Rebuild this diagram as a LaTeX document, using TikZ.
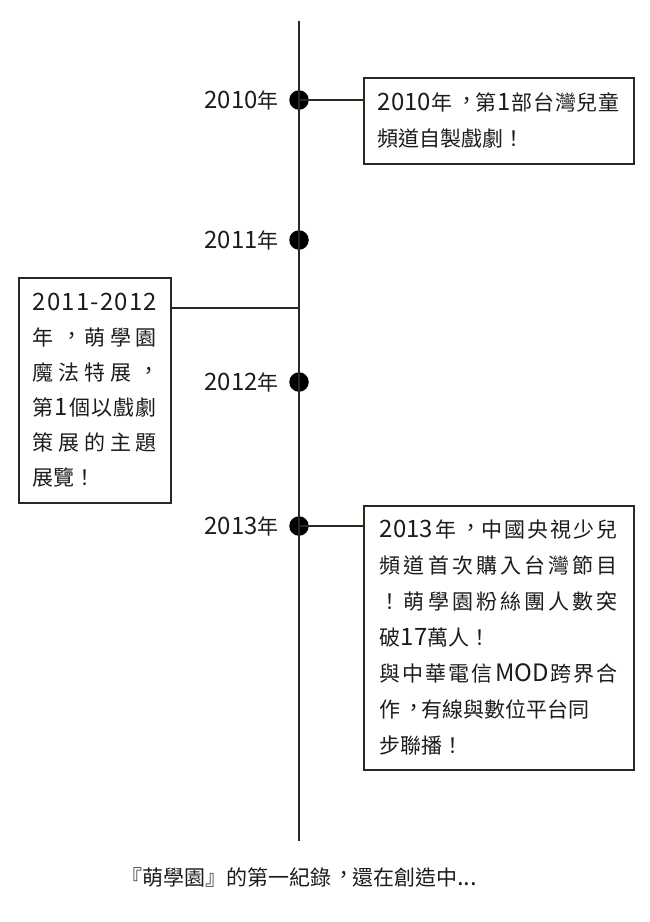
\documentclass[tikz,border=0pt]{standalone}
\usepackage{fontspec}
\setmainfont{Noto Sans CJK TC}[Script=CJK,Language=Chinese Traditional]
\newfontfamily\latfont{Noto Sans CJK TC}[Scale=1.14]
\usepackage{xcolor}
\usetikzlibrary{positioning,calc}
\definecolor{inkline}{HTML}{2B2820}
\definecolor{inktext}{HTML}{1C1C1C}
% spread the tokens of one line over the whole text width
\def\spreadtok#1{#1\futurelet\nexttok\spreadnext}
\def\spreadnext{\ifx\nexttok\relax\expandafter\spreadstop\else\hfil\expandafter\spreadtok\fi}
\def\spreadstop\relax{}
\newcommand\spreadline[1]{\makebox[\hsize][s]{\spreadtok#1\relax}}
\newcommand\lat[1]{{\latfont #1}}
% centred full-width comma
\newcommand\cc{\makebox[1em][l]{\hspace{0.12em}\raisebox{0.1em}{\makebox[0.88em][l]{，}}}}
\tikzset{timeline/.style={line width=2pt,draw=inkline},
 tie edge/.style={line width=1.6pt,draw=inkline}}

\begin{document}
\begin{tikzpicture}[x=1pt,y=-1pt,
 event/.style={draw=inkline,line width=1.6pt,fill=white,align=left,text=inktext,
  anchor=north west,font=\fontsize{21}{36}\selectfont},
 dot/.style={circle,fill=black,inner sep=0pt,minimum size=19.5pt},
 year/.style={inner sep=0pt,text=inktext,font=\fontsize{21}{25}\selectfont}]
\useasboundingbox (0,0) rectangle (650,922);

\coordinate (top) at (299,21);
\coordinate (bottom) at (299,841);

\node[dot] (d2010) at (299,100) {};
\node[dot] (d2011) at (299,240) {};
\node[dot] (d2012) at (299,382) {};
\node[dot] (d2013) at (299,526) {};
\node[left=10pt of d2010,year] (y2010) {\lat{2010}年};
\node[left=10pt of d2011,year] (y2011) {\lat{2011}年};
\node[left=10pt of d2012,year] (y2012) {\lat{2012}年};
\node[left=10pt of d2013,year] (y2013) {\lat{2013}年};

\node[event,text width=242pt,inner xsep=14pt,minimum height=86pt] (E2010) at (363,77)
 {\spreadline{{\lat{2010}}年\cc 第{\lat{1}}部台灣兒童}\\頻道自製戲劇！};
\node[event,text width=124pt,inner xsep=14pt,minimum height=225pt,
 font=\fontsize{21}{35}\selectfont] (E2011) at (18,277)
 {{\latfont\spreadline{2011-2012}}\\\spreadline{年\cc 萌學園}\\\spreadline{魔法特展\cc}\\
  \spreadline{第{\lat{1}}個以戲劇}\\\spreadline{策展的主題}\\展覽！};
\node[event,text width=238pt,inner xsep=16pt,minimum height=264pt] (E2013) at (363,505)
 {\spreadline{{\lat{2013}}年\cc 中國央視少兒}\\\spreadline{頻道首次購入台灣節目}\\
  \spreadline{！萌學園粉絲團人數突}\\破\lat{17}萬人！\\\spreadline{與中華電信{\lat{MOD}}跨界合}\\
  作\cc 有線與數位平台同\\步聯播！};

\coordinate (j2011) at (299,308);
\node[year] (note) at (299,877) {『萌學園』的第一紀錄\cc 還在創造中\lat{...}};

\draw[timeline] (top) -- (bottom);
\draw[tie edge] (d2010.center) -- (d2010.center -| E2010.west)
 (d2013.center) -- (d2013.center -| E2013.west)
 (j2011) -- (j2011 -| E2011.east);
\end{tikzpicture}
\end{document}
